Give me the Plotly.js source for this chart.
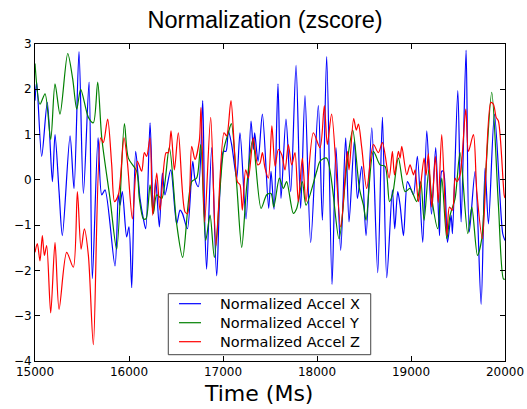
<!DOCTYPE html>
<html>
<head>
<meta charset="utf-8">
<script src="https://cdn.plot.ly/plotly-3.0.1.min.js"></script>
<style>html,body{margin:0;padding:0;background:#fff;}#chart{width:527px;height:409px;}</style>
</head>
<body>
<div id="chart"></div>
<script>
// Time (Ms) and normalized values
const timeX = [15000,15018,15071,15131,15185,15213,15256,15291,15373,15415,15468,15515,15575,15610,15671,15710,15745,15851,15887,15904,15929,15975,16000,16029,16071,16117,16153,16178,16224,16259,16284,16323,16355,16383,16444,16507,16543,16568,16621,16678,16703,16738,16784,16805,16826,16880,16933,17004,17032,17057,17092,17146,17181,17245,17298,17323,17337,17373,17419,17486,17511,17543,17585,17617,17670,17720,17777,17826,17872,17933,18014,18057,18103,18160,18202,18252,18305,18341,18397,18430,18476,18522,18583,18646,18696,18742,18802,18827,18859,18884,18920,18962,18990,19026,19068,19125,19168,19218,19263,19303,19327,19345,19388,19427,19441,19498,19533,19586,19620,19682,19746,19788,19824,19888,19976,20000];
const accelX = [1.75,2.16,0.52,1.71,-0.04,1.0,-0.26,-1.23,0.97,-0.19,2.83,-0.3,2.16,-2.18,0.93,-0.33,-0.22,-1.9,-0.3,-0.56,-0.26,-1.26,-1.04,-2.38,0.63,-0.41,-0.86,-1.08,1.26,-0.74,0,-1.04,0.15,-0.33,0.22,-0.97,-0.67,-0.74,-1.08,0.41,0.0,-0.15,1.75,-0.89,-1.97,0.71,-2.12,0.63,0.63,1.08,0.78,0.04,1.04,-0.86,1.3,0.67,1.04,0.41,1.45,-0.63,0.19,-0.65,2.12,-0.41,1.34,-0.26,2.53,-0.63,1.86,-1.38,1.64,-0.89,2.72,-2.31,0.71,-1.56,0.93,-0.93,0.86,-0.41,0.3,-1.23,1.15,-2.05,1.38,-2.16,-0.22,-1.08,-0.26,-0.56,-1.23,-0.04,-0.15,-0.33,0.52,-1.38,1.08,-0.76,0.71,-1.23,0.19,0.19,-1.38,-0.78,-1.19,1.97,-0.93,2.86,-1.15,0.19,-2.75,0.26,-0.97,1.45,-1.19,-1.34];

const timeY = [15000,15053,15107,15167,15213,15266,15348,15401,15444,15486,15568,15621,15667,15710,15798,15869,15951,15993,16082,16110,16153,16181,16224,16259,16295,16348,16429,16507,16571,16667,16720,16763,16816,16862,16908,17004,17057,17089,17146,17199,17252,17316,17405,17465,17511,17540,17600,17642,17677,17748,17784,17844,17883,17997,18032,18103,18234,18316,18380,18451,18494,18522,18600,18671,18724,18771,18806,18866,18937,18990,19061,19104,19139,19190,19221,19285,19327,19381,19416,19469,19522,19604,19647,19707,19753,19788,19859,19930,19984,20000];
const accelY = [2.57,1.67,1.9,0.89,2.12,1.45,2.79,2.23,1.56,2.0,1.38,1.26,2.16,0.93,-0.41,-1.53,1.24,0.48,0.19,-0.41,-0.86,-0.86,-0.11,-0.74,-0.33,-0.41,0.71,-0.97,-1.71,-0.04,0.04,0.78,-1.34,-0.78,-1.71,0.63,1.04,1.24,-0.11,-1.49,-0.15,0.89,-0.63,-0.33,-0.3,-0.6,0.04,-0.19,-0.04,-0.74,-0.63,-0.04,-0.56,0.19,0.41,0.48,-1.3,0.3,1.1,-0.19,-0.56,-0.89,0.63,0.33,0.3,-0.48,-0.3,0.48,-0.26,-0.19,-0.48,-0.04,-0.89,0.22,-0.41,-1.08,0.04,-1.3,-0.78,-0.41,0.6,-1.19,-0.6,-1.67,-1.3,-0.11,1.93,-0.56,-2.19,-2.19];

const timeZ = [15000,15025,15053,15078,15100,15124,15167,15213,15256,15337,15408,15451,15490,15525,15568,15621,15699,15727,15773,15816,15846,15887,15947,15982,16036,16089,16135,16163,16188,16224,16252,16295,16330,16394,16419,16447,16483,16525,16596,16624,16667,16702,16748,16766,16805,16869,16926,17011,17039,17085,17153,17181,17206,17241,17270,17323,17369,17394,17419,17447,17483,17520,17554,17589,17624,17660,17695,17731,17766,17801,17844,17883,17961,18032,18078,18110,18156,18252,18323,18341,18390,18418,18441,18476,18529,18600,18653,18696,18767,18802,18824,18866,18884,18902,18955,18990,19026,19044,19079,19139,19160,19185,19220,19260,19290,19327,19381,19409,19441,19469,19487,19522,19583,19611,19664,19700,19760,19849,19877,19906,19930,19991,20000];
const accelZ = [-1.6,-1.41,-1.79,-1.23,-1.67,-1.45,-2.94,-1.38,-2.86,-1.6,-1.93,-0.26,-1.53,-1.08,-1.67,-3.64,0.93,0.82,1.34,0.33,-0.48,-0.33,0.93,0.41,-0.86,0.41,0.19,0.6,0.52,0.93,-0.78,0.15,-0.67,0.6,0.6,1.08,0.22,1.04,-0.71,-0.74,0.74,0.45,0.86,1.6,-0.93,1.38,-1.45,1.04,0.97,1.75,-0.04,-0.11,-0.67,0.22,0.04,0.93,0.33,0.37,0.6,0.26,0.04,1.19,0.3,0.67,0.56,0.22,0.78,0.33,0.6,-0.48,0.48,-0.48,1.04,0.71,1.64,0.78,1.45,-1.04,0.63,0.22,1.35,1.1,1.23,0.71,-0.19,0.78,0.6,0.82,0.04,0.63,0.11,0.63,0.48,0.74,0.11,0.33,0.11,0.22,-0.48,0.48,0.1,0.58,-0.6,0.52,-0.5,1.0,-1.23,-0.6,-0.67,0.04,-0.04,0.11,1.56,0.63,1.0,-0.26,-1.3,1.71,1.67,1.38,1.3,-0.33,-0.4];

const seriesNames = ["Normalized Accel X", "Normalized Accel Y", "Normalized Accel Z"];
const xTicks = [15000, 16000, 17000, 18000, 19000, 20000];
const yTicks = [-4, -3, -2, -1, 0, 1, 2, 3];

const colors = ["#0000ff", "#008000", "#ff0000"];
const xs = [timeX, timeY, timeZ];
const ys = [accelX, accelY, accelZ];

const traces = xs.map((x, i) => ({
  x: x, y: ys[i], type: "scatter", mode: "lines", name: seriesNames[i],
  line: {color: colors[i], width: 1.2, shape: "spline", smoothing: 0.8}
}));

// Legend drawn as a framed box (matplotlib-style, compact rows)
const legendBox = {x0: 0.2836, x1: 0.7143, y0: 0.0199, y1: 0.2123};
const legendRows = [0.1808, 0.1208, 0.0609];
const shapes = [{type: "rect", xref: "paper", yref: "paper", x0: legendBox.x0, x1: legendBox.x1, y0: legendBox.y0, y1: legendBox.y1,
                 line: {color: "#444", width: 1}, fillcolor: "#fff", layer: "above"}];
const annotations = [];
seriesNames.forEach((name, i) => {
  shapes.push({type: "line", xref: "paper", yref: "paper", x0: 0.3064, x1: 0.3532, y0: legendRows[i], y1: legendRows[i],
               line: {color: colors[i], width: 1.2}, layer: "above"});
  annotations.push({text: name, xref: "paper", yref: "paper", x: 0.3887, y: legendRows[i], xanchor: "left", yanchor: "middle",
                    showarrow: false, font: {family: "DejaVu Sans", size: 14.5, color: "#000"}});
});
annotations.push({text: "Time (Ms)", xref: "paper", yref: "paper", x: 0.475, y: -0.101, xanchor: "center", yanchor: "middle",
                  showarrow: false, font: {family: "DejaVu Sans", size: 22, color: "#000"}});

const tickFont = {family: "DejaVu Sans", size: 12, color: "#000"};
const layout = {
  width: 527, height: 409,
  margin: {l: 35, r: 22, t: 44, b: 48},
  paper_bgcolor: "#fff", plot_bgcolor: "#fff",
  showlegend: false,
  title: {text: "Normalization (zscore)", font: {family: "Liberation Sans, Arial", size: 23.5, color: "#000"},
          x: 0.503, xref: "container", xanchor: "center", y: 0.951, yref: "container", yanchor: "middle"},
  xaxis: {range: [15000, 20000], tickvals: xTicks, ticktext: xTicks.map(String),
          showgrid: false, zeroline: false, showline: true, linecolor: "#000", linewidth: 1, mirror: "ticks",
          ticks: "inside", ticklen: 5, tickcolor: "#000", tickfont: tickFont},
  yaxis: {range: [-4, 3], tickvals: yTicks, ticktext: yTicks.map(v => v < 0 ? "\u2212" + Math.abs(v) : String(v)),
          showgrid: false, zeroline: false, showline: true, linecolor: "#000", linewidth: 1, mirror: "ticks",
          ticks: "inside", ticklen: 5, tickcolor: "#000", tickfont: tickFont},
  shapes: shapes,
  annotations: annotations
};

Plotly.newPlot("chart", traces, layout, {displayModeBar: false, staticPlot: true});
</script>
</body>
</html>
